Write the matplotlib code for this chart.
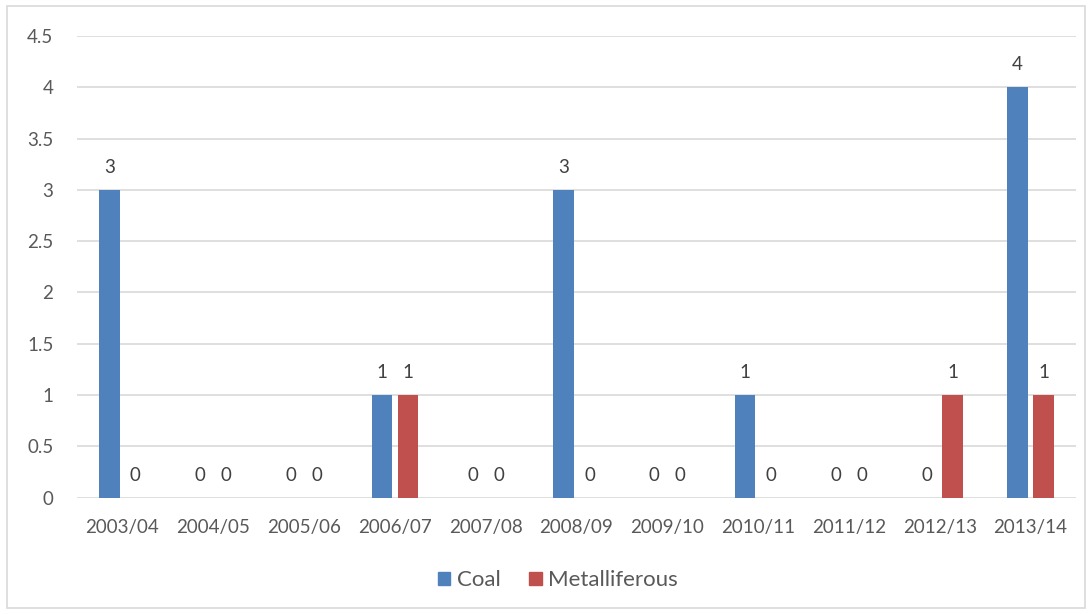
import numpy as np
import matplotlib
matplotlib.use('Agg')
import matplotlib.pyplot as plt
import matplotlib.patches as mpatches

# Datos por año fiscal
years = ['2003/04', '2004/05', '2005/06', '2006/07', '2007/08', '2008/09',
         '2009/10', '2010/11', '2011/12', '2012/13', '2013/14']
coal = [3, 0, 0, 1, 0, 3, 0, 1, 0, 0, 4]
metalliferous = [0, 0, 0, 1, 0, 0, 0, 0, 0, 1, 1]

COL_COAL = '#4F81BD'
COL_METAL = '#C0504D'
TXT = '#595959'

plt.rcParams['font.family'] = ['Lato', 'DejaVu Sans']

fig = plt.figure(figsize=(10.92, 6.14), dpi=100)
ax = fig.add_axes([0.0705, 0.1894, 0.9148, 0.752])

x = np.arange(len(years))
w = 0.225
off = 0.143

b1 = ax.bar(x - off, coal, width=w, color=COL_COAL, zorder=3)
b2 = ax.bar(x + off, metalliferous, width=w, color=COL_METAL, zorder=3)

for bars, vals in ((b1, coal), (b2, metalliferous)):
    for bar, v in zip(bars, vals):
        ax.annotate(f'{v:g}', (bar.get_x() + bar.get_width() / 2, v),
                    xytext=(0, 10), textcoords='offset points',
                    ha='center', va='bottom', fontsize=13.5, color='#404040')

ax.set_xlim(-0.5, len(years) - 0.5)
ax.set_ylim(0, 4.5)
ax.set_yticks(np.arange(0, 4.51, 0.5))
ax.set_yticklabels(['0', '0.5', '1', '1.5', '2', '2.5', '3', '3.5', '4', '4.5'])
ax.set_xticks(x)
ax.set_xticklabels(years)
ax.tick_params(axis='both', length=0, labelsize=13.5, colors=TXT)
ax.tick_params(axis='y', pad=17)
ax.tick_params(axis='x', pad=15)
ax.grid(axis='y', color='#D9D9D9', linewidth=1.2, zorder=0)
for s in ax.spines.values():
    s.set_visible(False)

handles = [mpatches.Patch(color=COL_COAL, label='Coal'),
           mpatches.Patch(color=COL_METAL, label='Metalliferous')]
fig.legend(handles=handles, loc='center', bbox_to_anchor=(0.511, 0.055), ncol=2,
           frameon=False, fontsize=16, labelcolor=TXT, handlelength=0.55,
           handleheight=0.55, handletextpad=0.3, columnspacing=1.3)

# Marco exterior del gráfico
fig.add_artist(mpatches.Rectangle((0.006, 0.01), 0.988, 0.98, transform=fig.transFigure,
                                  fill=False, edgecolor='#D9D9D9', linewidth=1.2))

plt.savefig('out.png', dpi=100)
plt.close()
